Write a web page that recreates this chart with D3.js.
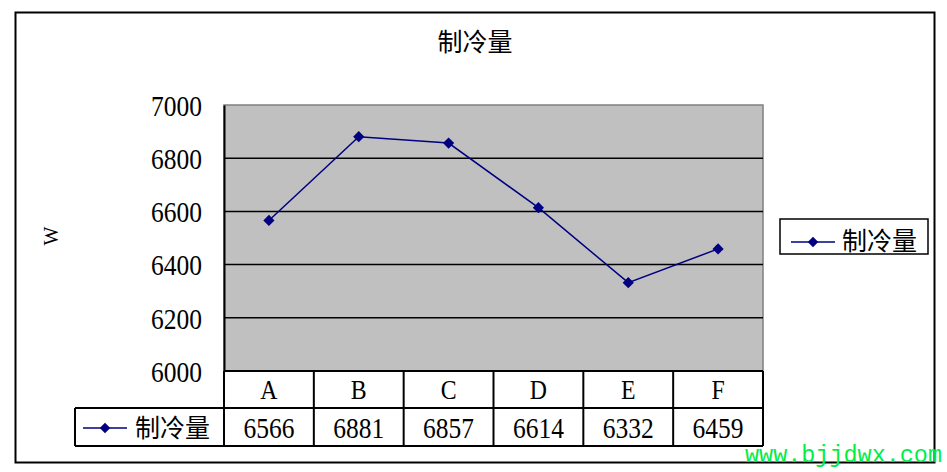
<!DOCTYPE html>
<html><head><meta charset="utf-8">
<script src="https://cdn.jsdelivr.net/npm/d3@7"></script>
<style>body{margin:0;background:#fff}svg{display:block}</style>
</head><body>
<svg id="c" width="947" height="472"></svg>
<script>
const categories = ["A","B","C","D","E","F"];
const values = [6566, 6881, 6857, 6614, 6332, 6459];
const yTicks = [6000, 6200, 6400, 6600, 6800, 7000];
const seriesName = "制冷量";
const titleText = "制冷量";
const yLabel = "W";
const watermark = "www.bjjdwx.com";

const svg = d3.select("#c");
const serif = "'Liberation Serif','Times New Roman',serif";
const cjk = "'Noto Sans CJK SC','Noto Sans',sans-serif";
const navy = "#000080";

// outer frame
svg.append("rect").attr("x",15.5).attr("y",12.5).attr("width",919).attr("height",450)
  .attr("fill","#fff").attr("stroke","#000").attr("stroke-width",2);

const L=224, R=763, T=105, B=371;
const x = d3.scaleBand().domain(categories).range([L,R]);
const y = d3.scaleLinear().domain([6000,7000]).range([B,T]);

// plot area
svg.append("rect").attr("x",L).attr("y",T).attr("width",R-L).attr("height",B-T)
  .attr("fill","#c0c0c0").attr("stroke","#808080").attr("stroke-width",1.5);

// gridlines
svg.append("g").selectAll("line").data(yTicks.filter(t=>t>6000&&t<7000)).join("line")
  .attr("x1",L).attr("x2",R).attr("y1",d=>y(d)).attr("y2",d=>y(d))
  .attr("stroke","#000").attr("stroke-width",1.5);

// y axis
const yAxis = d3.axisLeft(y).tickValues(yTicks).tickSize(0).tickPadding(22).tickFormat(d3.format("d"));
const ga = svg.append("g").attr("transform",`translate(${L},0)`).call(yAxis);
ga.select(".domain").attr("stroke","#000").attr("stroke-width",2);
ga.selectAll("text").attr("font-family",serif).attr("font-size",30).attr("fill","#000")
  .attr("dy","0.34em")
  .attr("transform",function(){const tx=+d3.select(this).attr("x")||-22;return null;});
ga.selectAll(".tick text").each(function(){
  const t=d3.select(this); const xx=-22;
  t.attr("x",null).attr("transform",`translate(${xx},0) scale(0.85,1)`);
});

// y label
svg.append("text").attr("transform","translate(58,236) rotate(-90)")
  .attr("text-anchor","middle").attr("font-family",serif).attr("font-size",20).text(yLabel);

// title
svg.append("text").attr("x",475).attr("y",51).attr("text-anchor","middle")
  .attr("font-family",cjk).attr("font-size",25).attr("fill","#000").text(titleText);

// data table
const rowH1 = 408, rowH2 = 446, tblL = 75;
const tb = svg.append("g");
tb.append("line").attr("x1",L).attr("x2",R).attr("y1",B).attr("y2",B).attr("stroke","#000").attr("stroke-width",2);
tb.append("line").attr("x1",tblL).attr("x2",R).attr("y1",rowH1).attr("y2",rowH1).attr("stroke","#000").attr("stroke-width",2);
tb.append("line").attr("x1",tblL).attr("x2",R).attr("y1",rowH2).attr("y2",rowH2).attr("stroke","#000").attr("stroke-width",2);
tb.append("line").attr("x1",tblL).attr("x2",tblL).attr("y1",rowH1).attr("y2",rowH2).attr("stroke","#000").attr("stroke-width",2);
const bounds = categories.map(c=>x(c)).concat([R]);
tb.selectAll("line.v").data(bounds).join("line").attr("class","v")
  .attr("x1",d=>d).attr("x2",d=>d).attr("y1",B).attr("y2",rowH2).attr("stroke","#000").attr("stroke-width",2);
tb.selectAll("text.cat").data(categories).join("text").attr("class","cat")
  .attr("transform",d=>`translate(${x(d)+x.bandwidth()/2},${(B+rowH1)/2}) scale(0.85,1)`)
  .attr("text-anchor","middle").attr("dy","0.35em")
  .attr("font-family",serif).attr("font-size",28).text(d=>d);
tb.selectAll("text.val").data(values).join("text").attr("class","val")
  .attr("transform",(d,i)=>`translate(${x(categories[i])+x.bandwidth()/2},${(rowH1+rowH2)/2}) scale(0.85,1)`)
  .attr("text-anchor","middle").attr("dy","0.35em")
  .attr("font-family",serif).attr("font-size",30).text(d=>d);

function legendKey(g, cx, cy){
  g.append("line").attr("x1",cx-22).attr("x2",cx+22).attr("y1",cy).attr("y2",cy).attr("stroke",navy).attr("stroke-width",1.5);
  g.append("path").attr("d",d3.symbol(d3.symbolDiamond2,70)()).attr("transform",`translate(${cx},${cy})`).attr("fill",navy);
}
const tl = svg.append("g");
legendKey(tl,105,428);
tl.append("text").attr("x",135).attr("y",428).attr("dy","0.36em").attr("font-family",cjk).attr("font-size",25).text(seriesName);

// line series
const line = d3.line().x((d,i)=>x(categories[i])+x.bandwidth()/2).y(d=>y(d));
svg.append("path").datum(values).attr("d",line).attr("fill","none").attr("stroke",navy).attr("stroke-width",1.5);
svg.append("g").selectAll("path").data(values).join("path")
  .attr("d",d3.symbol(d3.symbolDiamond2,80)())
  .attr("transform",(d,i)=>`translate(${x(categories[i])+x.bandwidth()/2},${y(d)})`)
  .attr("fill",navy);

// legend
const lg = svg.append("g");
lg.append("rect").attr("x",780).attr("y",219).attr("width",148).attr("height",35).attr("fill","#fff").attr("stroke","#000").attr("stroke-width",1.5);
legendKey(lg,813,242);
lg.append("text").attr("x",842).attr("y",241).attr("dy","0.36em").attr("font-family",cjk).attr("font-size",25).text(seriesName);

// watermark
svg.append("text").attr("x",745).attr("y",462).attr("font-family","'Liberation Mono','DejaVu Sans Mono',monospace")
  .attr("font-size",23).attr("fill","#00ee44").attr("textLength",197).attr("lengthAdjust","spacingAndGlyphs").text(watermark);
</script>
</body></html>
